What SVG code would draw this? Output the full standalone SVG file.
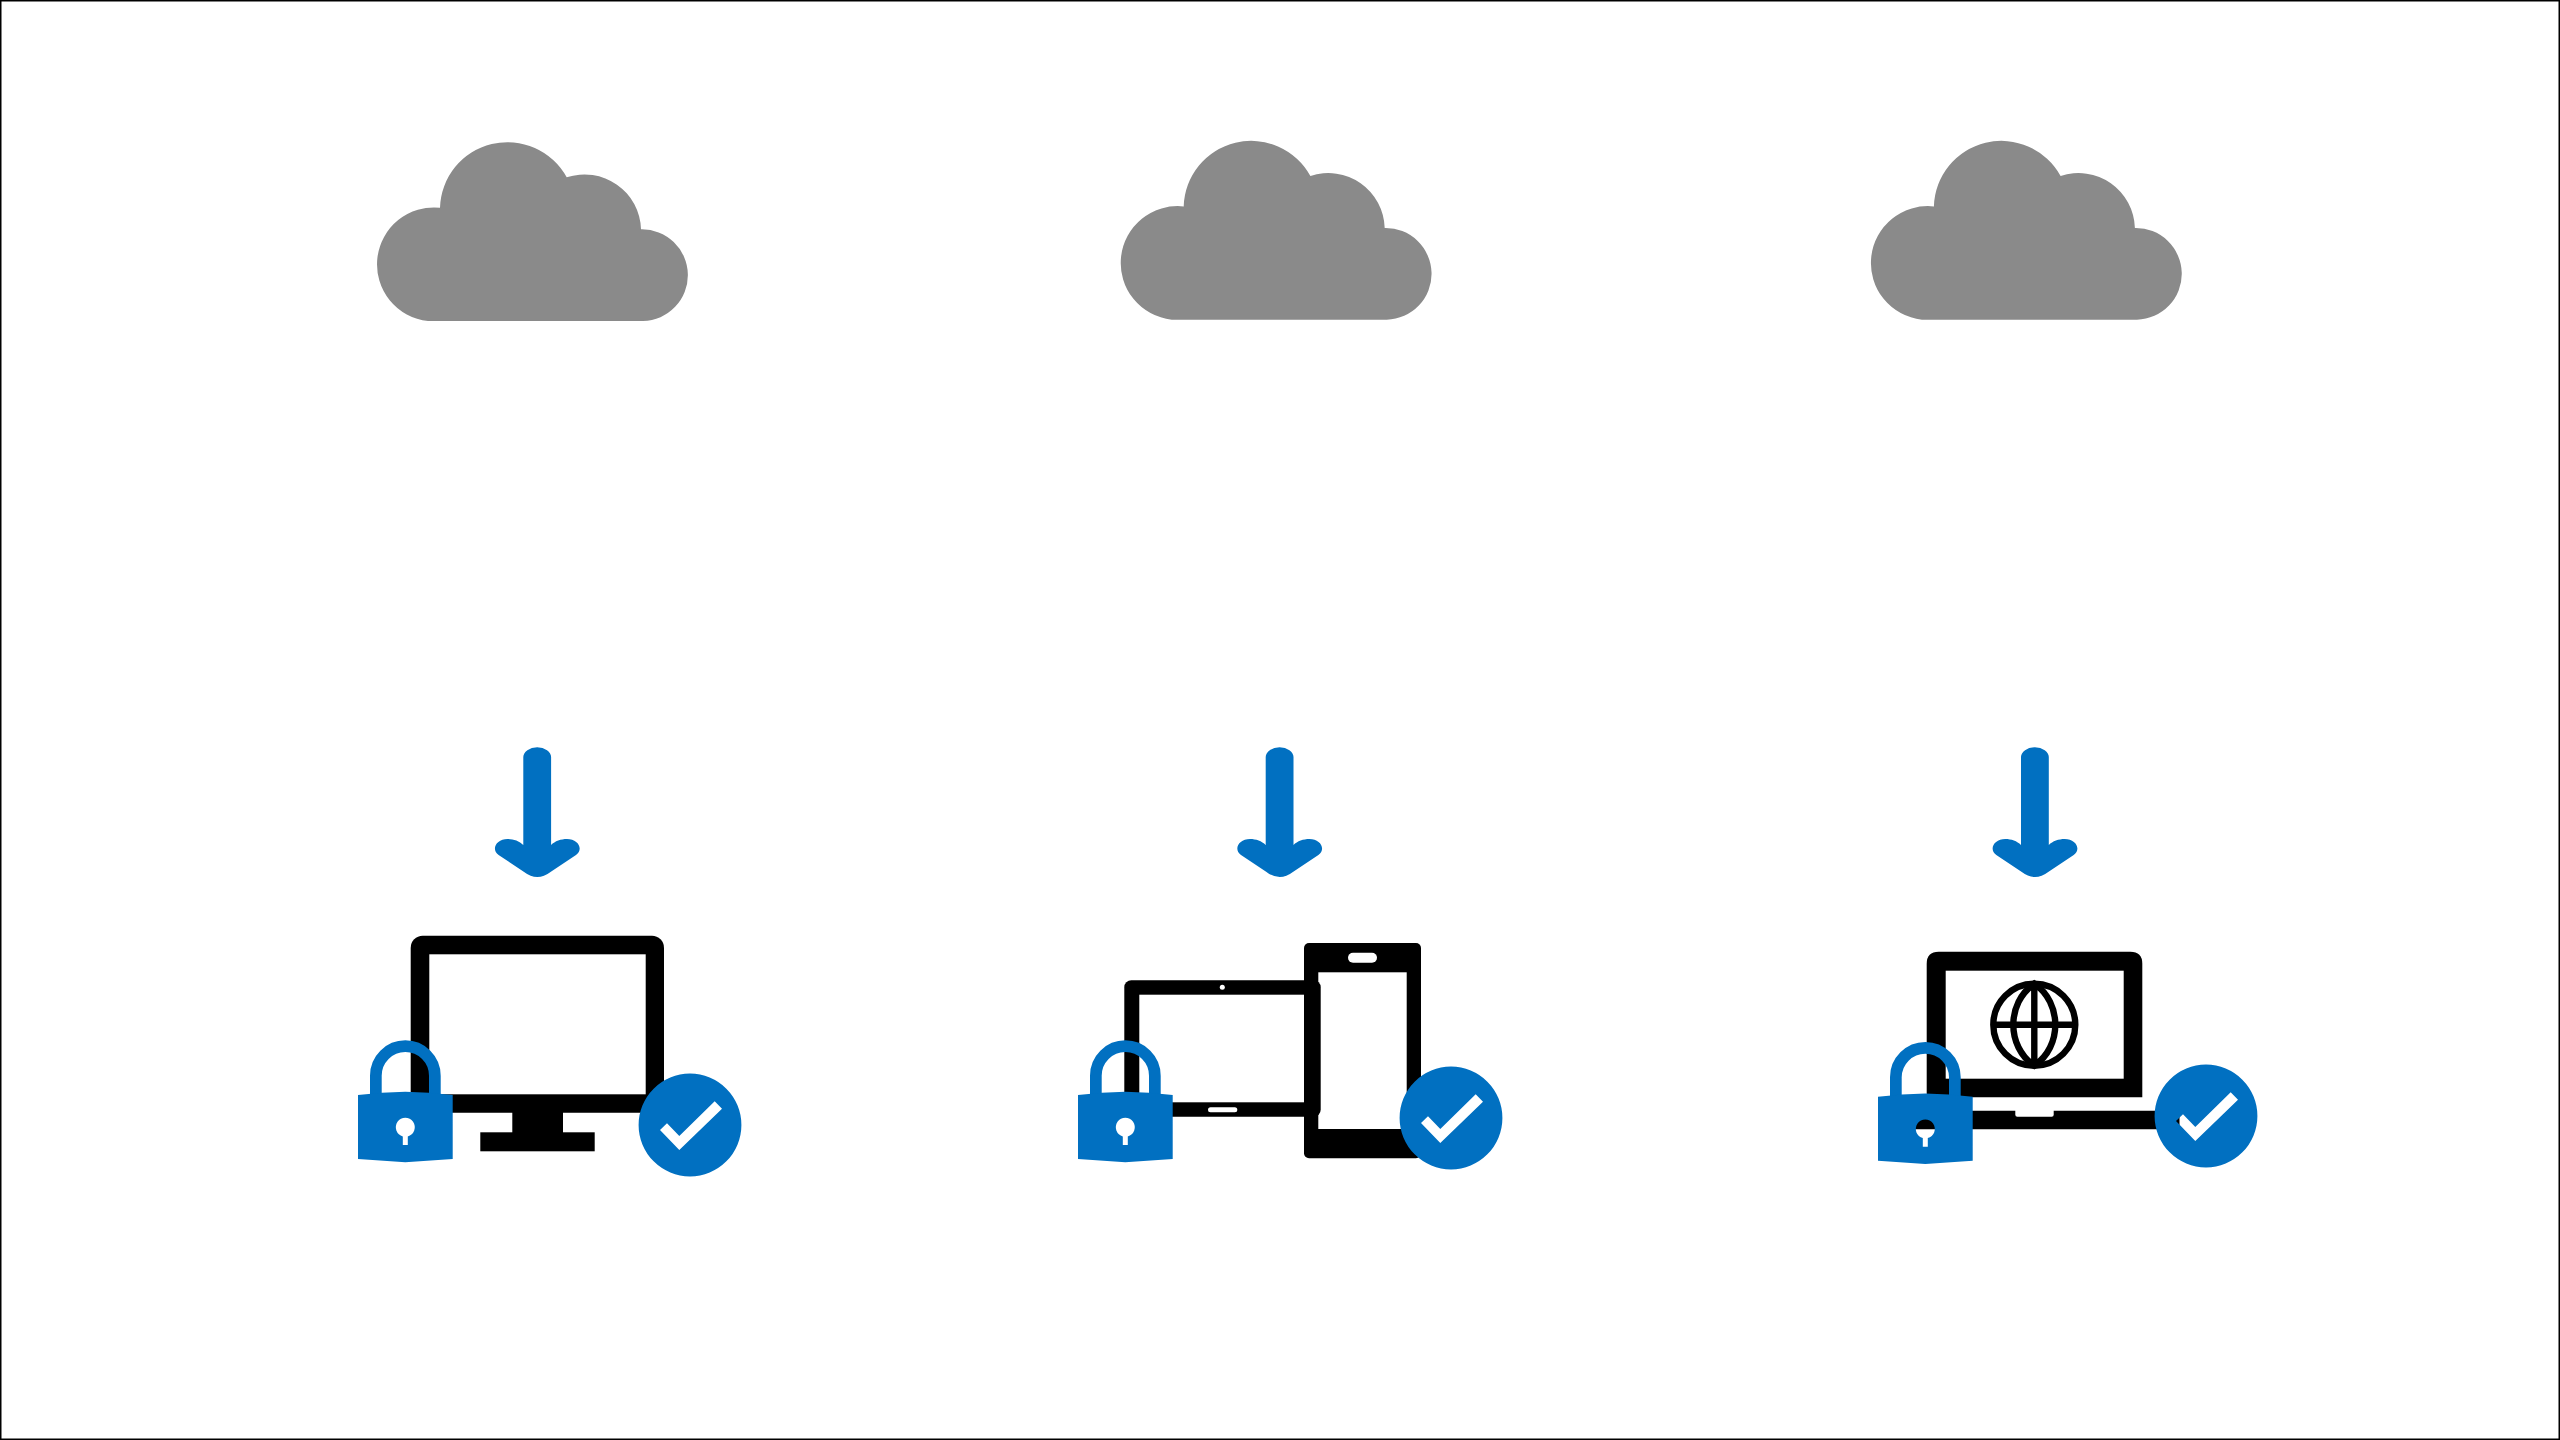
<svg xmlns="http://www.w3.org/2000/svg" xmlns:xlink="http://www.w3.org/1999/xlink" width="2560" height="1440" viewBox="0 0 2560 1440">
  <style>
    .gray { fill: #8a8a8a; }
    .blue { fill: #0170c1; }
    .hole { fill-rule: evenodd; }
    .black { fill: #000; }
    .white { fill: #fff; }
    .shackle { fill: none; stroke: #0170c1; stroke-width: 11.7; }
    .globe { fill: none; stroke: #000; stroke-width: 6.4; }
  </style>
  <defs>
    <path id="cloud" class="gray" d="M428 321 A50 50 0 0 1 440 207.7 A67.5 67.5 0 0 1 566.7 177.3 A56.5 56.5 0 0 1 641 229.3 A40 40 0 0 1 643 321 Z"/>
    <path id="arrow" class="blue" d="M523.3 757 A13.9 9.7 0 0 1 551.1 757 L551.1 845 C555 841 561 839 567 839 C578 839 584 849 576 855 L550.5 872 Q544 877 537.3 877 Q530.6 877 524.1 872 L498.6 855 C490.6 849 496.6 839 507.6 839 C513.6 839 519.4 841 523.3 845 Z"/>
    <g id="lock">
      <path class="shackle" d="M375.85 1095 V1075.65 A29.5 29.5 0 0 1 434.85 1075.65 V1095"/>
      <path class="blue hole" d="M358 1095 Q382 1092 405.3 1091.7 Q429 1092 452.7 1095 L452.7 1159 L405.3 1162.3 L358 1159 Z M402.8 1136.4 A9.5 9.5 0 1 1 407.8 1136.4 L407.8 1145 L402.8 1145 Z"/>
    </g>
    <path id="check" class="blue hole" d="M-51.4 0 A51.4 51.4 0 1 1 51.4 0 A51.4 51.4 0 1 1 -51.4 0 Z M-30 5 L-23 -1.7 L-10.7 11 L24.7 -23.7 L32 -16.3 L-10.7 25 Z"/>
  </defs>

  <rect x="0" y="0" width="2560" height="1440" fill="#fff"/>
  <rect id="frame" x="0.75" y="0.75" width="2558.5" height="1438.5" fill="none" stroke="#000" stroke-width="1.5"/>

  <g id="cloud-1"><use href="#cloud"/></g>
  <g id="cloud-2"><use href="#cloud" transform="translate(743.7,-1.3)"/></g>
  <g id="cloud-3"><use href="#cloud" transform="translate(1493.9,-1.3)"/></g>

  <g id="connectors">
    <use href="#arrow"/>
    <use href="#arrow" transform="translate(742.4,0)"/>
    <use href="#arrow" transform="translate(1497.7,0)"/>
  </g>

  <g id="desktop">
    <rect class="black" x="410.7" y="935.7" width="253.3" height="177" rx="12"/>
    <rect class="white" x="429.3" y="954.3" width="216.4" height="140"/>
    <rect class="black" x="512.3" y="1110" width="50.7" height="24"/>
    <rect class="black" x="480.3" y="1132.3" width="114.4" height="19"/>
    <use href="#lock"/>
    <use href="#check" x="690" y="1125"/>
  </g>

  <g id="tablet-phone">
    <rect class="black" x="1304" y="943" width="117" height="215.3" rx="5"/>
    <rect class="white" x="1318.3" y="972.3" width="88.4" height="156.7"/>
    <rect class="white" x="1348" y="952.7" width="29" height="10" rx="5"/>
    <rect class="black" x="1124.3" y="980.3" width="196.4" height="136.4" rx="7"/>
    <rect class="white" x="1139.3" y="994.7" width="164.7" height="107.6"/>
    <circle class="white" cx="1222.3" cy="987.3" r="2.5"/>
    <rect class="white" x="1208" y="1107.3" width="29.3" height="5" rx="2.5"/>
    <use href="#lock" x="720"/>
    <use href="#check" x="1451" y="1118"/>
  </g>

  <g id="laptop">
    <path class="black" d="M1887 1110.7 H2015.3 V1114.7 Q2015.3 1116.7 2017.3 1116.7 H2051.7 Q2053.7 1116.7 2053.7 1114.7 V1110.7 H2179.5 V1129.3 H1887 Z"/>
    <path class="black" d="M1926.7 1097.3 V963.7 Q1926.7 951.7 1938.7 951.7 H2130.3 Q2142.3 951.7 2142.3 963.7 V1097.3 Z"/>
    <rect class="white" x="1945.7" y="970.7" width="178" height="108"/>
    <circle class="globe" cx="2034.3" cy="1024.7" r="41"/>
    <path class="globe" d="M2034.3 983.7 C2006.3 1003 2006.3 1046.4 2034.3 1065.7 C2062.3 1046.4 2062.3 1003 2034.3 983.7 Z M1993.3 1024.7 H2075.3 M2034.3 983.7 V1065.7"/>
    <use href="#lock" x="1520" y="1.7"/>
    <use href="#check" x="2206" y="1116"/>
  </g>
</svg>
